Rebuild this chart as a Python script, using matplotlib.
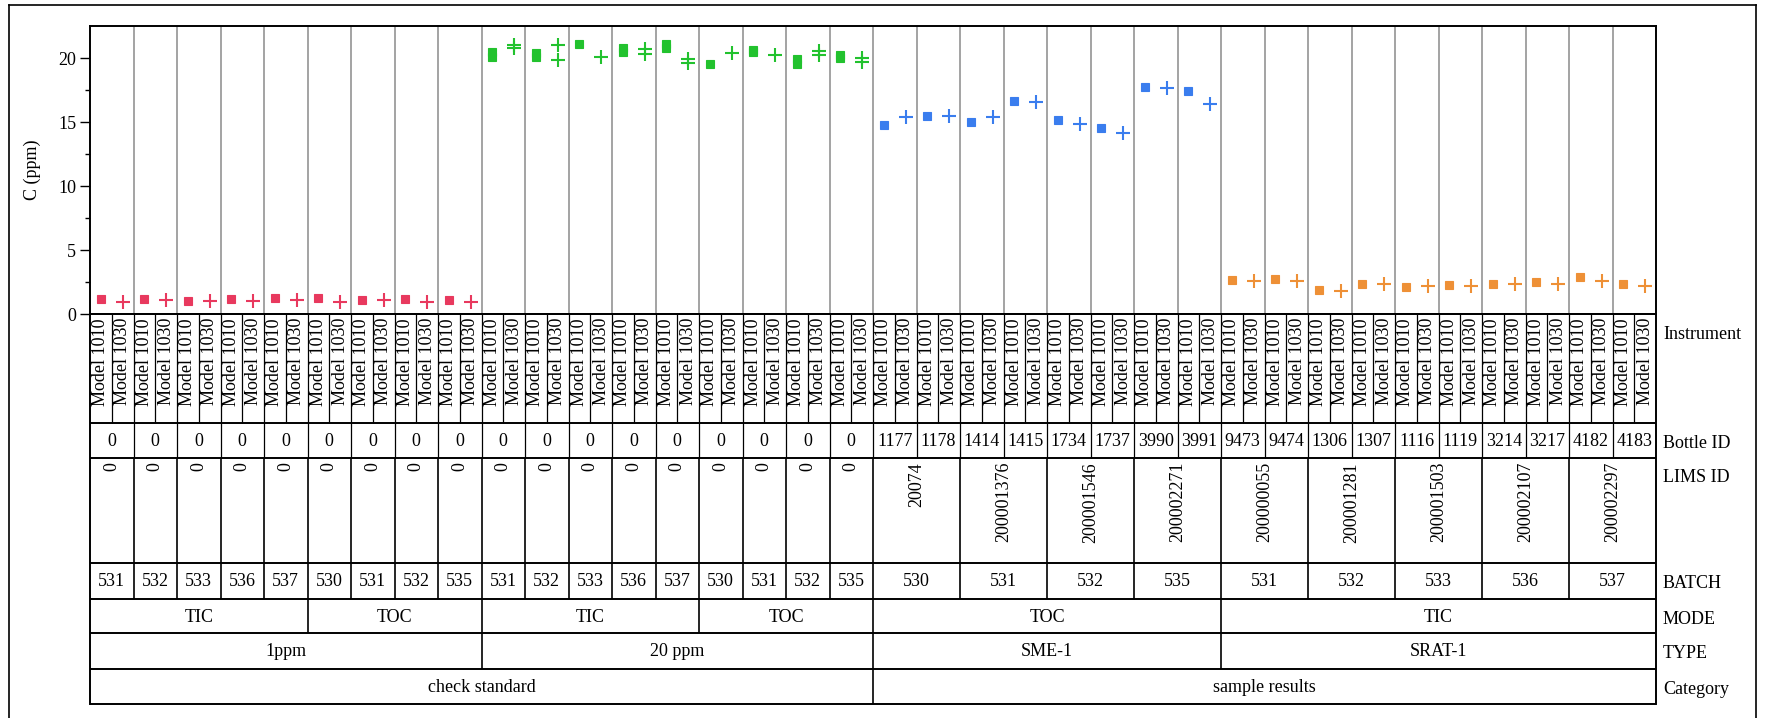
import matplotlib
matplotlib.use("Agg")
import matplotlib.pyplot as plt
from matplotlib.lines import Line2D

plt.rcParams['font.family'] = ['Liberation Serif', 'DejaVu Serif']

# ---------------- data (one entry per Bottle-level group; each group has Model 1010 + Model 1030) ----
category = ["check standard"] * 18 + ["sample results"] * 18
sample_type = ["1ppm"] * 9 + ["20 ppm"] * 9 + ["SME-1"] * 8 + ["SRAT-1"] * 10
mode = (["TIC"] * 5 + ["TOC"] * 4) * 2 + ["TOC"] * 8 + ["TIC"] * 10
batch = ([531, 532, 533, 536, 537, 530, 531, 532, 535] * 2
         + [530, 530, 531, 531, 532, 532, 535, 535]
         + [531, 531, 532, 532, 533, 533, 536, 536, 537, 537])
lims_id = (["0"] * 18
           + ["20074"] * 2 + ["200001376"] * 2 + ["200001546"] * 2 + ["200002271"] * 2
           + ["200000055"] * 2 + ["200001281"] * 2 + ["200001503"] * 2 + ["200002107"] * 2
           + ["200002297"] * 2)
bottle_id = (["0"] * 18
             + ["1177", "1178", "1414", "1415", "1734", "1737", "3990", "3991"]
             + ["9473", "9474", "1306", "1307", "1116", "1119", "3214", "3217", "4182", "4183"])
instruments = ["Model 1010", "Model 1030"]

model1010 = [[1.15], [1.15], [1.02], [1.17], [1.25], [1.25], [1.12], [1.17], [1.07],
             [20.49, 20.06], [20.40, 20.06], [21.08], [20.77, 20.45], [21.10, 20.80],
             [19.55], [20.65, 20.44], [19.90, 19.53], [20.26, 20.00],
             [14.76], [15.50], [15.01], [16.66], [15.14], [14.52], [17.75], [17.39],
             [2.64], [2.74], [1.88], [2.38], [2.12], [2.25], [2.38], [2.48], [2.87], [2.38]]
model1030 = [[0.94], [1.12], [1.00], [1.05], [1.07], [0.90], [1.07], [0.90], [0.90],
             [21.04, 20.78], [21.04, 19.87], [20.08], [20.70, 20.34], [19.92, 19.61],
             [20.39], [20.23], [20.55, 20.26], [20.00, 19.69],
             [15.38], [15.50], [15.38], [16.53], [14.86], [14.13], [17.65], [16.37],
             [2.59], [2.59], [1.80], [2.33], [2.20], [2.20], [2.33], [2.33], [2.59], [2.20]]

type_colors = {"1ppm": "#E8395E", "20 ppm": "#22C22E", "SME-1": "#3A7DEE", "SRAT-1": "#EE9036"}

# ---------------- layout ----------------
W, H = 1767, 718
fig = plt.figure(figsize=(W / 100, H / 100), dpi=100)


def fx(p):
    return p / W


def fy(p):
    return 1 - p / H


L, R, T, B = 90, 1656, 26, 314
ngroups = len(category)
ncols = 2 * ngroups

ax = fig.add_axes([fx(L), fy(B), (R - L) / W, (B - T) / H])
ax.set_xlim(0, ncols)
ax.set_ylim(0, 22.5)

for g in range(ngroups):
    c = type_colors[sample_type[g]]
    x0 = 2 * g + 0.5
    x1 = 2 * g + 1.5
    ax.plot([x0] * len(model1010[g]), model1010[g], ls='none', marker='s', ms=5.6,
            mfc=c, mec=c, mew=0.8, zorder=3)
    ax.plot([x1] * len(model1030[g]), model1030[g], ls='none', marker='+', ms=10,
            mec=c, mew=1.5, zorder=3)

for k in range(1, ngroups):
    ax.axvline(2 * k, color='#8a8a8a', lw=1.1, zorder=1)

ax.set_yticks([0, 5, 10, 15, 20])
ax.set_yticks([2.5, 7.5, 12.5, 17.5], minor=True)
ax.set_xticks([])
ax.tick_params(axis='y', which='major', direction='out', length=7, width=1, labelsize=13, pad=3)
ax.tick_params(axis='y', which='minor', direction='out', length=3.5, width=1)
for s in ax.spines.values():
    s.set_linewidth(1.4)
    s.set_color('black')
ax.set_ylabel("C (ppm)", fontsize=13)
ax.yaxis.set_label_coords(-0.031, 0.5)

# ---------------- table ----------------
rows = [("Instrument", 314, 423), ("Bottle ID", 423, 458), ("LIMS ID", 458, 563),
        ("BATCH", 563, 599), ("MODE", 599, 633), ("TYPE", 633, 669), ("Category", 669, 704)]
tb = rows[-1][2]
tax = fig.add_axes([fx(L), fy(tb), (R - L) / W, (tb - B) / H])
tax.set_xlim(0, ncols)
tax.set_ylim(tb, B)
tax.axis('off')


def col_keys(level):
    keys, labels = [], []
    for i in range(ncols):
        g = i // 2
        full = [category[g], sample_type[g], mode[g], str(batch[g]), lims_id[g], bottle_id[g], instruments[i % 2]]
        lab = full[level]
        if level == 6:
            key = tuple(full[:6]) + (i,)
        else:
            key = tuple(full[:level + 1]) + (g if level == 5 else None,)
        keys.append(key)
        labels.append(lab)
    return keys, labels


# row name -> hierarchy level
levels = {"Category": 0, "TYPE": 1, "MODE": 2, "BATCH": 3, "LIMS ID": 4, "Bottle ID": 5, "Instrument": 6}

for name, top, bot in rows:
    lvl = levels[name]
    keys, labels = col_keys(lvl)
    runs = []
    start = 0
    for i in range(1, ncols + 1):
        if i == ncols or keys[i] != keys[start]:
            runs.append((start, i, labels[start]))
            start = i
    for s, e, lab in runs:
        if e < ncols:
            tax.plot([e, e], [top, bot], color='black', lw=0.9 if lvl >= 5 else 1.2,
                     solid_capstyle='butt', clip_on=False)
        xc = (s + e) / 2
        if name in ("Instrument", "LIMS ID"):
            tax.text(xc, top + 4, lab, rotation=90, ha='center', va='top', fontsize=13)
        else:
            tax.text(xc, (top + bot) / 2 + 1, lab, ha='center', va='center', fontsize=13)
    fig.text(fx(1663), fy(top + 20), name, ha='left', va='center', fontsize=13)

for _, top, bot in rows:
    tax.plot([0, ncols], [bot, bot], color='black', lw=1.4, clip_on=False, solid_capstyle='butt')
tax.plot([0, ncols], [B, B], color='black', lw=1.4, clip_on=False)
tax.plot([0, 0], [B, tb], color='black', lw=1.4, clip_on=False)
tax.plot([ncols, ncols], [B, tb], color='black', lw=1.4, clip_on=False)

# outer frame
fig.add_artist(Line2D([fx(9), fx(9)], [fy(5), 0], color='black', lw=1.2))
fig.add_artist(Line2D([fx(9), fx(1756)], [fy(5), fy(5)], color='black', lw=1.2))
fig.add_artist(Line2D([fx(1756), fx(1756)], [fy(5), 0], color='black', lw=1.2))

fig.savefig("out.png", dpi=100)
